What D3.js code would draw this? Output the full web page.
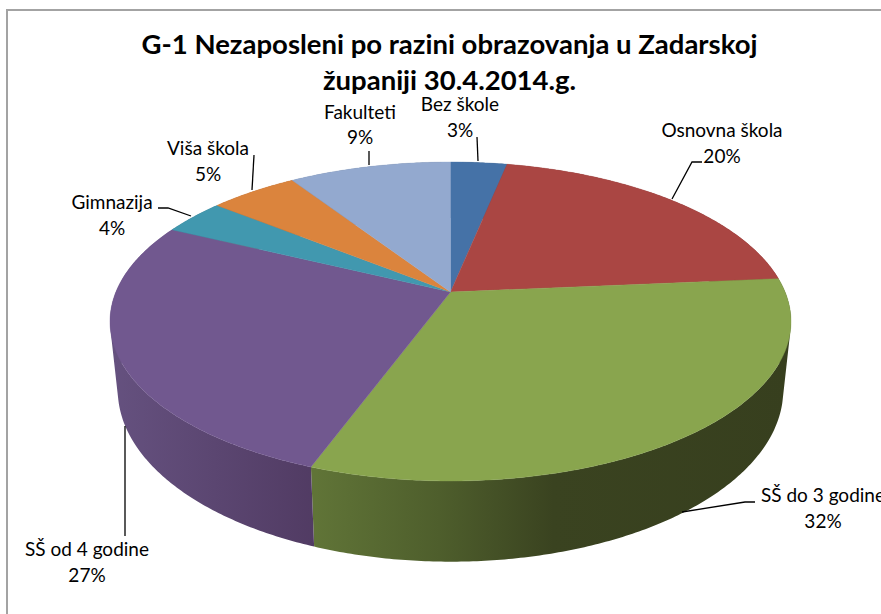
<!DOCTYPE html>
<html>
<head>
<meta charset="utf-8">
<script src="https://cdn.jsdelivr.net/npm/d3@7"></script>
<style>
  html, body { margin: 0; padding: 0; background: #fff; overflow: hidden; }
  text { font-family: Lato, "Open Sans", sans-serif; fill: #000; }
</style>
</head>
<body>
<div id="chart"></div>
<script>
// Values (labels in the chart are rounded)
var categories = ["Bez škole", "Osnovna škola", "SŠ do 3 godine", "SŠ od 4 godine", "Gimnazija", "Viša škola", "Fakulteti"];
var shares = [3.2, 20.4, 32.0, 26.6, 3.6, 5.0, 9.2];
var titleLines = ["G-1 Nezaposleni po razini obrazovanja u Zadarskoj", "županiji 30.4.2014.g."];
var topColours = ["#4572a7", "#aa4643", "#89a54e", "#71588f", "#4198af", "#db843d", "#93a9cf"];

// Label anchors: [centre x, first baseline, second baseline]
var labelAnchors = [[460, 111, 137], [722, 137, 163], [823, 502, 528], [87, 556, 582], [112, 209, 235], [208, 155, 181], [360, 119, 144]];
// Leader lines
var leaders = [
    [[477, 137], [478, 161]],
    [[702, 162], [692, 162], [672, 199]],
    [[755, 502], [745, 502], [682, 512]],
    [[125, 426], [125, 536]],
    [[158, 208], [168, 208], [191, 216]],
    [[254, 155], [252, 190]],
    [[369, 151], [369, 165]]
];

function init() {
    var width = 881;
    var height = 614;

    var svg = d3.select("#chart")
        .append("svg")
        .attr("width", width)
        .attr("height", height)
        .style("display", "block");

    // Outer frame runs off the right and bottom of the crop
    svg.append("rect")
        .attr("x", 7)
        .attr("y", 10)
        .attr("width", width + 20)
        .attr("height", height + 20)
        .attr("fill", "#fff")
        .attr("stroke", "#a3a3a3")
        .attr("stroke-width", 2);

    // Perspective of the disc: top rim and bottom rim
    var k = 0.185;
    var cx = 450.5;
    function rim(a, b, y0) {
        return function (theta) {
            var u = Math.sin(theta), v = Math.cos(theta), w = 1 + k * v;
            return [cx + a * u / w, y0 - b * v / w];
        };
    }
    var topRim = rim(334.6, 154, 292);
    var lowRim = rim(327, 166, 358);

    var pie = d3.pie().sort(null).value(d => d);
    var arcs = pie(shares);
    var line = d3.line();

    function arcSteps(d) {
        var steps = Math.ceil((d.endAngle - d.startAngle) / 0.01);
        return d3.range(steps + 1).map(i => d.startAngle + (d.endAngle - d.startAngle) * i / steps);
    }

    // Wall as small quads, all wound the same way so the silhouette fold stays filled
    function wallPath(d) {
        var t = arcSteps(d);
        return d3.pairs(t).map(p => {
            var quad = [topRim(p[0]), topRim(p[1]), lowRim(p[1]), lowRim(p[0])];
            if (d3.polygonArea(quad) < 0) quad.reverse();
            return line(quad) + "Z";
        }).join("");
    }

    // Gradients on the side walls
    var defs = svg.append("defs");
    var wallGrads = [
        { id: "wall2", x1: 316, x2: 790, stops: [[0, "#607437"], [0.26, "#4e5e2c"], [0.5, "#3a4320"], [1, "#373f1e"]] },
        { id: "wall3", x1: 113, x2: 316, stops: [[0, "#65517f"], [1, "#513b63"]] }
    ];
    wallGrads.forEach(g => {
        var lg = defs.append("linearGradient")
            .attr("id", g.id)
            .attr("gradientUnits", "userSpaceOnUse")
            .attr("x1", g.x1).attr("x2", g.x2)
            .attr("y1", 0).attr("y2", 0);
        g.stops.forEach(s => lg.append("stop").attr("offset", s[0]).attr("stop-color", s[1]));
    });

    // Side walls first, the top face covers whatever faces away
    svg.append("g").selectAll("path")
        .data(arcs)
        .enter()
        .append("path")
        .attr("d", wallPath)
        .attr("fill", (d, i) => (i == 2 || i == 3) ? "url(#wall" + i + ")" : d3.color(topColours[i]).darker(1));

    // Top face
    svg.append("g").selectAll("path")
        .data(arcs)
        .enter()
        .append("path")
        .attr("d", d => line([[cx, 292]].concat(arcSteps(d).map(topRim))) + "Z")
        .attr("fill", (d, i) => topColours[i])
        .attr("stroke", (d, i) => topColours[i])
        .attr("stroke-width", 0.4);

    // Leader lines
    svg.append("g").selectAll("path")
        .data(leaders)
        .enter()
        .append("path")
        .attr("d", d => line(d))
        .attr("fill", "none")
        .attr("stroke", "#000")
        .attr("stroke-width", 1.3);

    // Title
    svg.append("g").selectAll("text")
        .data(titleLines)
        .enter()
        .append("text")
        .attr("x", 449.5)
        .attr("y", (d, i) => 54 + i * 36)
        .attr("text-anchor", "middle")
        .attr("font-weight", 700)
        .attr("font-size", 27.5)
        .text(d => d);

    // Category and percentage labels
    var labels = svg.append("g").selectAll("g")
        .data(categories)
        .enter()
        .append("g")
        .attr("font-size", 19);
    labels.append("text")
        .attr("x", (d, i) => labelAnchors[i][0])
        .attr("y", (d, i) => labelAnchors[i][1])
        .attr("text-anchor", "middle")
        .text(d => d);
    labels.append("text")
        .attr("x", (d, i) => labelAnchors[i][0])
        .attr("y", (d, i) => labelAnchors[i][2])
        .attr("text-anchor", "middle")
        .text((d, i) => Math.round(shares[i]) + "%");
}

window.onload = init;
</script>
</body>
</html>
